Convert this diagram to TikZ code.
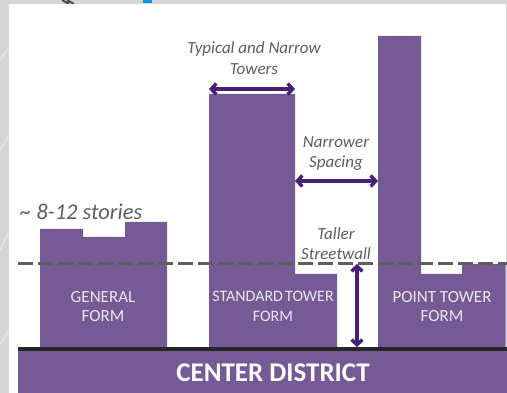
\documentclass[tikz,border=0pt]{standalone}
\usepackage{fontspec}
\setmainfont{Carlito}
\usetikzlibrary{arrows.meta}
\definecolor{towerpurple}{HTML}{755A96}
\definecolor{arrowpurple}{HTML}{47207A}
\definecolor{notegray}{HTML}{5E5E5E}
\definecolor{mapgray}{HTML}{D6D6D6}
\tikzset{note/.style={text=notegray, font=\fontsize{17}{20.5}\selectfont\itshape, align=center, inner sep=0pt},
	formlabel/.style={text=white!85!towerpurple, font=\fontsize{17}{19.5}\selectfont, align=center, inner sep=0pt},
	span/.style={draw=arrowpurple, line width=3.2pt, {Straight Barb[length=5pt,width=11pt,line width=3.4pt]}-{Straight Barb[length=5pt,width=11pt,line width=3.4pt]}}}

\begin{document}
\begin{tikzpicture}[x=1pt, y=-1pt]
	\useasboundingbox (0, 0) rectangle (507, 393);
	\fill[mapgray] (0, 0) rectangle (507, 393);
	% map showing round the panel
	\draw[white!35!mapgray, line width=1.5pt] (0, 60) -- (9, 48) (0, 150) -- (9, 135) (0, 250) -- (9, 232) (0, 345) -- (9, 330);
	\draw[black!70, line width=2pt] (62, 0) -- (69, 4) (67, 0) -- (74, 4);
	\fill[cyan!80!blue] (143, 0) rectangle (152, 3);
	\fill[white] (9, 4) rectangle (506, 393);
	% towers
	\fill[towerpurple] (40, 347) |- (83, 229) |- (125, 237) |- (167, 222) -- (167, 347) -- cycle;
	\fill[towerpurple] (209, 347) |- (295, 94) |- (337, 274) -- (337, 347) -- cycle;
	\fill[towerpurple] (378, 347) |- (421, 36) |- (462, 274) |- (505.5, 264) -- (505.5, 347) -- cycle;
	% street
	\fill[towerpurple] (18, 351) rectangle (507, 393);
	\fill[black!85] (18, 347) rectangle (507, 351);
	\coordinate (dashleft) at (18, 264);
	\coordinate (dashright) at (507, 264);
	\draw[notegray, line width=3pt, dash pattern=on 15pt off 5pt] (dashleft) -- (dashright);
	% arrows
	\coordinate (towerleft) at (209, 89);
	\coordinate (towerright) at (295, 89);
	\coordinate (gapleft) at (295, 181);
	\coordinate (gapright) at (378, 181);
	\coordinate (walltop) at (357, 264);
	\coordinate (wallbottom) at (357, 347);
	\draw[span] (towerleft) -- (towerright);
	\draw[span] (gapleft) -- (gapright);
	\draw[span] (walltop) -- (wallbottom);
	% labels
	\node[note] (typical) at (254, 58) {Typical and Narrow\\Towers};
	\node[note] (spacing) at (336, 153.5) {Narrower\\Spacing};
	\node[note] (streetwall) at (336, 243.5) {Taller\\Streetwall};
	\node[note, font=\fontsize{22.5}{24}\selectfont\itshape, anchor=west] (stories) at (20, 212) {\textasciitilde{} 8-12 stories};
	\node[formlabel] (general) at (103, 306.5) {GENERAL\\FORM};
	\node[formlabel, font=\fontsize{16}{19.5}\selectfont] (standard) at (273, 306.5) {STANDARD\hspace{-1.5pt} TOWER\\FORM};
	\node[formlabel] (point) at (442, 306.5) {POINT TOWER\\FORM};
	\node[text=white, font=\fontsize{27}{30}\selectfont\bfseries, inner sep=0pt] (district) at (273, 373) {CENTER DISTRICT};
\end{tikzpicture}
\end{document}
